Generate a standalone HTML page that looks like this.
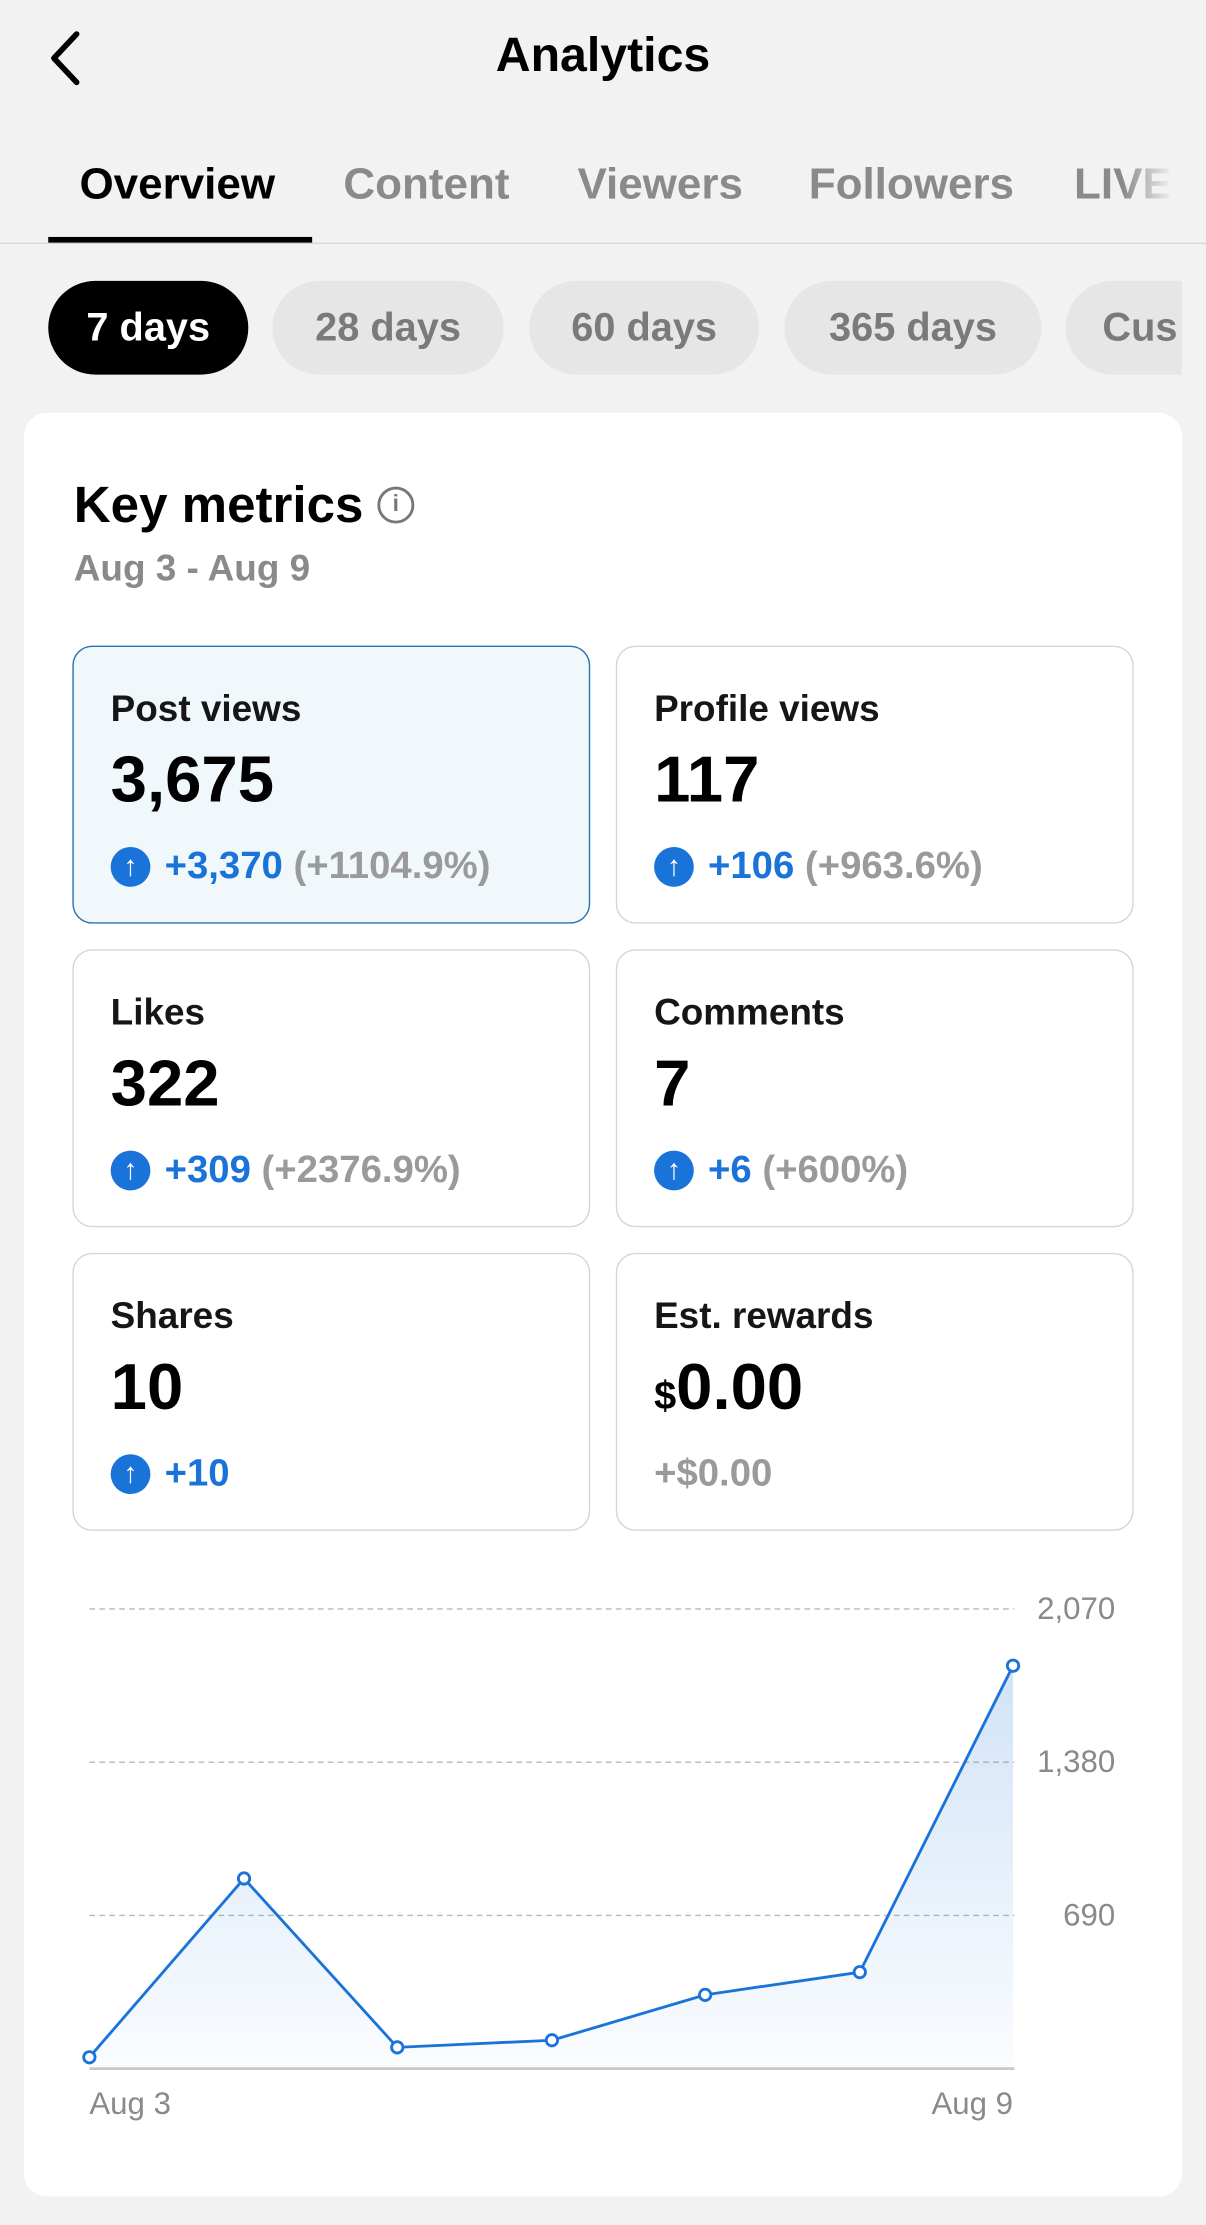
<!DOCTYPE html>
<html><head><meta charset="utf-8"><style>
html,body{margin:0;padding:0;}
body{width:1206px;height:2225px;overflow:hidden;background:#f2f2f2;font-family:"Liberation Sans",sans-serif;}
#w{position:absolute;left:0;top:0;width:850px;height:1568px;transform:scale(1.41882);transform-origin:0 0;}
.a{position:absolute;white-space:nowrap;}
.tab{position:absolute;top:112px;font-size:31px;color:#8a8a8a;font-weight:bold;}
.pill{position:absolute;top:198px;height:66px;border-radius:33px;background:#e6e6e6;color:#7a7a7a;font-size:28px;line-height:66px;text-align:center;font-weight:bold;}
.box{position:absolute;width:363px;height:194px;border:1px solid #d6d6d6;border-radius:14px;background:#fff;}
.lab{position:absolute;left:26px;top:28px;font-size:26px;font-weight:bold;color:#161616;}
.val{position:absolute;left:26px;top:66px;font-size:46px;font-weight:bold;color:#000;}
.chg{position:absolute;left:26px;top:139px;font-size:27px;color:#1a73d9;font-weight:bold;}
.chg i{font-style:normal;color:#9a9a9a;font-weight:bold;}
.ic{display:inline-block;width:28px;height:28px;border-radius:50%;background:#1a73d9;color:#fff;font-size:20px;line-height:28px;text-align:center;vertical-align:2px;margin-right:10px;font-weight:bold;}
</style></head><body><div id="w">
<svg class="a" style="left:30px;top:20px" width="34" height="44"><polyline points="24,4 8,21 24,38" fill="none" stroke="#000" stroke-width="4" stroke-linecap="round" stroke-linejoin="round"/></svg>
<div class="a" style="left:0;width:850px;text-align:center;top:20px;font-size:34px;font-weight:bold;">Analytics</div>
<div class="tab" style="left:56px;color:#000">Overview</div>
<div class="tab" style="left:242px">Content</div>
<div class="tab" style="left:407px">Viewers</div>
<div class="tab" style="left:570px">Followers</div>
<div class="tab" style="left:757px;background:linear-gradient(90deg,#8a8a8a 50%,#f2f2f2 100%);-webkit-background-clip:text;background-clip:text;color:transparent">LIVE</div>
<div class="a" style="left:0;top:171px;width:850px;height:1px;background:#d8d8d8"></div>
<div class="a" style="left:34px;top:167px;width:186px;height:4px;background:#000"></div>
<div class="pill" style="left:34px;width:141px;background:#000;color:#fff">7 days</div>
<div class="pill" style="left:192px;width:163px">28 days</div>
<div class="pill" style="left:373px;width:162px">60 days</div>
<div class="pill" style="left:553px;width:181px">365 days</div>
<div class="pill" style="left:751px;width:82px;border-radius:33px 0 0 33px;text-align:left;overflow:hidden"><span style="padding-left:26px">Cus</span></div>
<div class="a" style="left:17px;top:291px;width:816px;height:1257px;background:#fff;border-radius:16px"></div>
<div class="a" style="left:52px;top:335px;font-size:36px;font-weight:bold">Key metrics</div>
<div class="a" style="left:266px;top:343px;width:22px;height:22px;border:2px solid #777;border-radius:50%;color:#777;font-size:16px;line-height:22px;text-align:center;font-weight:bold">i</div>
<div class="a" style="left:52px;top:385px;font-size:26px;color:#8a8a8a;font-weight:bold">Aug 3 - Aug 9</div>
<div class="box" style="left:51px;top:455px;background:#f1f8fb;border-color:#2a72b0"><div class="lab">Post views</div><div class="val">3,675</div><div class="chg"><span class="ic">↑</span>+3,370 <i>(+1104.9%)</i></div></div>
<div class="box" style="left:434px;top:455px"><div class="lab">Profile views</div><div class="val">117</div><div class="chg"><span class="ic">↑</span>+106 <i>(+963.6%)</i></div></div>
<div class="box" style="left:51px;top:669px"><div class="lab">Likes</div><div class="val">322</div><div class="chg"><span class="ic">↑</span>+309 <i>(+2376.9%)</i></div></div>
<div class="box" style="left:434px;top:669px"><div class="lab">Comments</div><div class="val">7</div><div class="chg"><span class="ic">↑</span>+6 <i>(+600%)</i></div></div>
<div class="box" style="left:51px;top:883px"><div class="lab">Shares</div><div class="val">10</div><div class="chg"><span class="ic">↑</span>+10</div></div>
<div class="box" style="left:434px;top:883px"><div class="lab">Est. rewards</div><div class="val"><span style="font-size:28px">$</span>0.00</div><div class="chg"><i>+$0.00</i></div></div>
<svg class="a" style="left:0;top:1100px" width="850" height="420">
<defs><linearGradient id="g" x1="0" y1="0" x2="0" y2="1"><stop offset="0" stop-color="#1a73d9" stop-opacity="0.2"/><stop offset="1" stop-color="#1a73d9" stop-opacity="0.02"/></linearGradient></defs>
<g stroke="#b8b8b8" stroke-dasharray="4,3" stroke-width="1"><line x1="63" y1="34" x2="715" y2="34"/><line x1="63" y1="142" x2="715" y2="142"/><line x1="63" y1="250" x2="715" y2="250"/></g>
<polygon points="63,350 172,224 280,343 389,338 497,306 606,290 714,74 714,358 63,358" fill="url(#g)"/>
<line x1="63" y1="358" x2="715" y2="358" stroke="#c8c8c8" stroke-width="2"/>
<polyline points="63,350 172,224 280,343 389,338 497,306 606,290 714,74" fill="none" stroke="#1a73d9" stroke-width="2"/>
<g fill="#fff" stroke="#1a73d9" stroke-width="2"><circle cx="63" cy="350" r="4"/><circle cx="172" cy="224" r="4"/><circle cx="280" cy="343" r="4"/><circle cx="389" cy="338" r="4"/><circle cx="497" cy="306" r="4"/><circle cx="606" cy="290" r="4"/><circle cx="714" cy="74" r="4"/></g>
<g font-family="Liberation Sans" font-size="22" fill="#8a8a8a" text-anchor="end"><text x="786" y="41">2,070</text><text x="786" y="149">1,380</text><text x="786" y="257">690</text><text x="714" y="390">Aug 9</text></g>
<text x="63" y="390" font-family="Liberation Sans" font-size="22" fill="#8a8a8a">Aug 3</text>
</svg>
</div></body></html>
